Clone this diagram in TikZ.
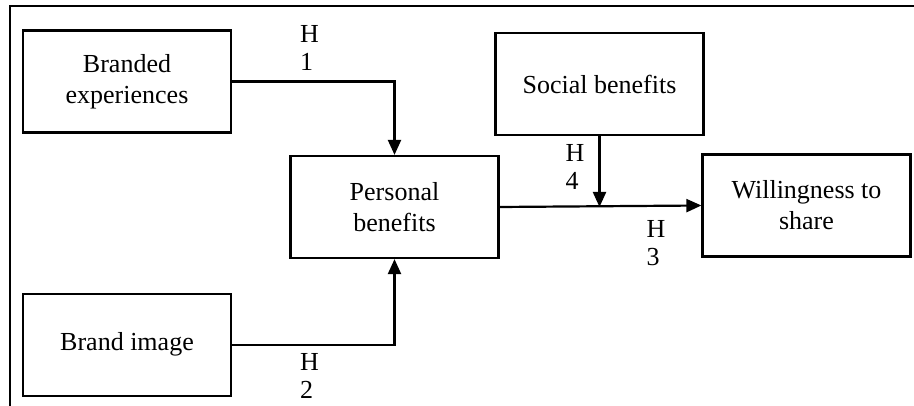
\documentclass[tikz,border=0pt]{standalone}
\usepackage{fontspec}
\setmainfont{Liberation Serif}
\usetikzlibrary{positioning}
\usetikzlibrary{arrows.meta}

\begin{document}
\begin{tikzpicture}[
        x=0.5pt, y=0.5pt,
        font=\fontsize{13}{15.5}\selectfont,
        line width=1.1pt,
        var/.style = {draw, align=center, minimum width=104pt, minimum height=51pt, inner sep=2pt},
        link/.style = {-{Triangle[length=7.5pt,width=6.5pt]}},
        hyp/.style = {align=left, anchor=west, inner sep=0pt, font=\fontsize{13}{14}\selectfont}
    ]
    \useasboundingbox (0,0) rectangle (914,406);
    \draw (10,0) -- (10,400) -- (914,400);

    \node[var] (Exp) at (127,324.5) {Branded\\experiences};
    \node[var, below=79.5pt of Exp] (Img) {Brand image};
    \node[var] (Pers) at (394.5,199) {Personal\\benefits};
    \node[var] (Soc) at (599.5,322) {Social benefits};
    \node[var] (Will) at (806.5,200.5) {Willingness to\\share};
    \coordinate (Mod) at (Soc.south |- Pers.east);

    \draw[link] (Exp.east) -| (Pers.north);
    \draw[link] (Img.east) -| (Pers.south);
    \draw[link] (Pers.east) -- (Will.west);
    \draw[link] (Soc.south) -- (Mod);

    \node[hyp] (H1) at (299,358.5) {H\\1};
    \node[hyp] (H2) at (299,30) {H\\2};
    \node[hyp] (H3) at (645.5,162.5) {H\\3};
    \node[hyp] (H4) at (564.5,239.5) {H\\4};
\end{tikzpicture}
\end{document}
